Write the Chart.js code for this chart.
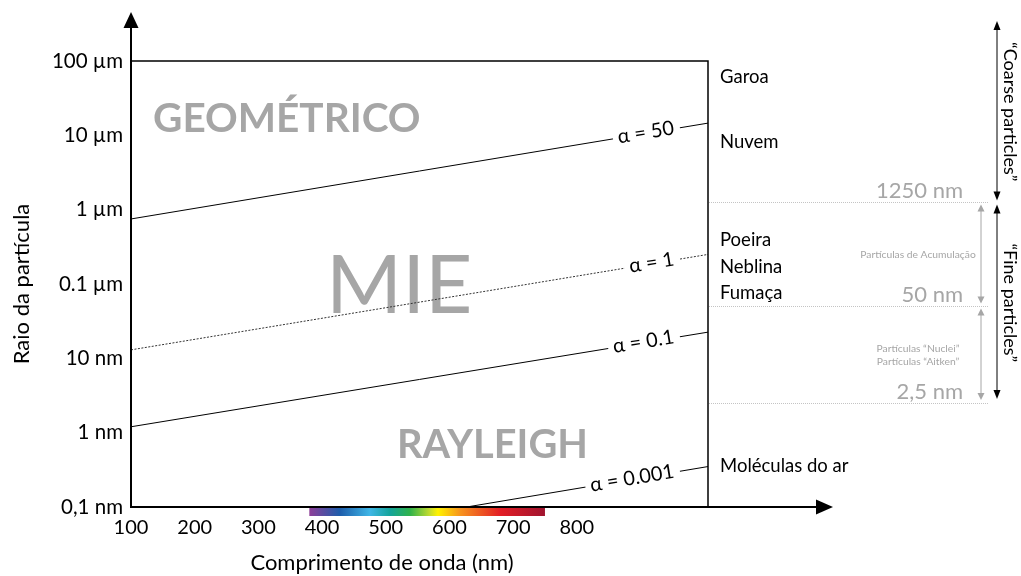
<!DOCTYPE html>
<html>
<head>
<meta charset="utf-8">
<script src="https://cdn.jsdelivr.net/npm/chart.js@4"></script>
<style>
  html, body { margin: 0; padding: 0; background: #fff; }
  canvas { display: block; }
</style>
</head>
<body>
<canvas id="c" width="1021" height="576"></canvas>
<script>
const FONT = 'Lato, "Open Sans", "Liberation Sans", sans-serif';

// Wavelength axis (nm)
const xTicks = [100, 200, 300, 400, 500, 600, 700, 800];
const xMin = 100;
const xMax = 1006;

// Particle radius axis (nm), log scale
const yTicks = [0.1, 1, 10, 100, 1000, 10000, 100000];
const yTickLabels = ['0,1 nm', '1 nm', '10 nm', '0.1 µm', '1 µm', '10 µm', '100 µm'];

// Size-parameter lines: start / end wavelength (nm) and radius (nm)
const alphaLabels = ['α = 50', 'α = 1', 'α = 0.1', 'α = 0.001'];
const alphaStartWl = [100, 100, 100, 627];
const alphaEndWl = [1006, 1006, 1006, 1006];
const alphaStartR = [750, 13, 1.2, 0.1];
const alphaEndR = [14600, 250, 22.5, 0.35];

// Scattering regimes
const regimes = ['GEOMÉTRICO', 'MIE', 'RAYLEIGH'];

// Particle types listed beside the plot
const particleTypes = ['Garoa', 'Nuvem', 'Poeira', 'Neblina', 'Fumaça', 'Moléculas do ar'];

// Aerosol size class boundaries (nm)
const sizeBounds = [1250, 50, 2.5];
const sizeBoundLabels = ['1250 nm', '50 nm', '2,5 nm'];
const sizeClassLabels = [['Partículas de Acumulação'], ['Partículas “Nuclei”', 'Partículas “Aitken”']];
const sizeModeLabels = ['“Coarse particles”', '“Fine particles”'];

// Visible spectrum band (nm) and colours
const spectrumWl = [380, 428, 475, 507, 538, 569, 582, 617, 680, 750];
const spectrumColors = ['#8e3f98', '#1d5dab', '#3fb6e6', '#14a49a', '#2fb24b', '#c4dc2e', '#fff200', '#f7941e', '#e31e26', '#a0142f'];

const GRAY = '#a6a6a6';

const datasets = alphaLabels.map((lab, i) => ({
  label: lab,
  data: [
    { x: alphaStartWl[i], y: alphaStartR[i] },
    { x: alphaEndWl[i], y: alphaEndR[i] }
  ],
  borderColor: i === 1 ? '#333' : '#000',
  borderWidth: 1,
  borderDash: i === 1 ? [2, 1.5] : [],
  pointRadius: 0,
  fill: false,
  tension: 0
}));

function arrowHead(ctx, x, y, dir, size, w) {
  // dir: 'up' | 'down' | 'right'
  ctx.beginPath();
  if (dir === 'up') {
    ctx.moveTo(x, y); ctx.lineTo(x - w, y + size); ctx.lineTo(x + w, y + size);
  } else if (dir === 'down') {
    ctx.moveTo(x, y); ctx.lineTo(x - w, y - size); ctx.lineTo(x + w, y - size);
  } else {
    ctx.moveTo(x, y); ctx.lineTo(x - size, y - w); ctx.lineTo(x - size, y + w);
  }
  ctx.closePath();
  ctx.fill();
}

function doubleArrow(ctx, x, y1, y2, color, size, w, lw) {
  ctx.save();
  ctx.strokeStyle = color;
  ctx.fillStyle = color;
  ctx.lineWidth = lw;
  ctx.beginPath();
  ctx.moveTo(x, y1 + size - 1);
  ctx.lineTo(x, y2 - size + 1);
  ctx.stroke();
  arrowHead(ctx, x, y1, 'up', size, w);
  arrowHead(ctx, x, y2, 'down', size, w);
  ctx.restore();
}

const regimePlugin = {
  id: 'regimes',
  beforeDatasetsDraw(chart) {
    const ctx = chart.ctx;
    ctx.save();
    ctx.fillStyle = GRAY;
    ctx.textBaseline = 'alphabetic';
    ctx.textAlign = 'left';
    ctx.font = 'bold 40.5px ' + FONT;
    ctx.fillText(regimes[0], 153, 132);
    ctx.font = '82px ' + FONT;
    ctx.fillText(regimes[1], 326, 313);
    ctx.font = 'bold 39.8px ' + FONT;
    ctx.fillText(regimes[2], 397, 458);
    ctx.restore();
  }
};

const decorPlugin = {
  id: 'decor',
  afterDatasetsDraw(chart) {
    const ctx = chart.ctx;
    const xs = chart.scales.x;
    const ys = chart.scales.y;

    // alpha labels sitting in gaps along each line
    ctx.save();
    ctx.font = '20px ' + FONT;
    ctx.textAlign = 'center';
    ctx.textBaseline = 'middle';
    alphaLabels.forEach((lab, i) => {
      const x1 = xs.getPixelForValue(alphaStartWl[i]);
      const y1 = ys.getPixelForValue(alphaStartR[i]);
      const x2 = xs.getPixelForValue(alphaEndWl[i]);
      const y2 = ys.getPixelForValue(alphaEndR[i]);
      const ang = Math.atan2(y2 - y1, x2 - x1);
      const w = ctx.measureText(lab).width;
      const cx = 674 - (w / 2) * Math.cos(ang);
      const cy = y1 + (y2 - y1) * (cx - x1) / (x2 - x1);
      ctx.save();
      ctx.translate(cx, cy);
      ctx.rotate(ang);
      ctx.fillStyle = '#fff';
      ctx.fillRect(-w / 2 - 5, -9, w + 11, 18);
      ctx.fillStyle = '#000';
      ctx.fillText(lab, 0, -1);
      ctx.restore();
    });
    ctx.restore();
  },
  afterDraw(chart) {
    const ctx = chart.ctx;
    const xs = chart.scales.x;
    const ys = chart.scales.y;
    const a = chart.chartArea;

    // visible spectrum band under the wavelength axis
    const sx1 = xs.getPixelForValue(spectrumWl[0]);
    const sx2 = xs.getPixelForValue(spectrumWl[spectrumWl.length - 1]);
    const grad = ctx.createLinearGradient(sx1, 0, sx2, 0);
    spectrumWl.forEach((wl, i) => {
      grad.addColorStop((xs.getPixelForValue(wl) - sx1) / (sx2 - sx1), spectrumColors[i]);
    });
    ctx.save();
    ctx.fillStyle = grad;
    ctx.fillRect(sx1, a.bottom, sx2 - sx1, 9);
    ctx.restore();

    // plot frame (top and right)
    ctx.save();
    ctx.strokeStyle = '#000';
    ctx.lineWidth = 1.5;
    ctx.beginPath();
    ctx.moveTo(a.left, a.top);
    ctx.lineTo(a.right, a.top);
    ctx.lineTo(a.right, a.bottom);
    ctx.stroke();

    // axes with arrows
    ctx.lineWidth = 2;
    ctx.beginPath();
    ctx.moveTo(a.left, a.bottom);
    ctx.lineTo(a.left, 26);
    ctx.moveTo(a.left - 1, a.bottom);
    ctx.lineTo(818, a.bottom);
    ctx.stroke();
    ctx.fillStyle = '#000';
    arrowHead(ctx, a.left, 12, 'up', 16, 7.5);
    arrowHead(ctx, 833, a.bottom, 'right', 17, 7.5);
    ctx.restore();

    // wavelength axis title
    ctx.save();
    ctx.font = '22px ' + FONT;
    ctx.fillStyle = '#000';
    ctx.textAlign = 'center';
    ctx.textBaseline = 'middle';
    ctx.fillText('Comprimento de onda (nm)', 382, 563);
    ctx.restore();

    // particle type labels
    const typeY = [77, 142, 240, 267, 293, 466];
    ctx.save();
    ctx.font = '18.5px ' + FONT;
    ctx.fillStyle = '#000';
    ctx.textAlign = 'left';
    ctx.textBaseline = 'middle';
    particleTypes.forEach((t, i) => ctx.fillText(t, a.right + 12, typeY[i]));
    ctx.restore();

    // size class boundaries
    const by = sizeBounds.map(v => ys.getPixelForValue(v));
    ctx.save();
    ctx.strokeStyle = '#c4c4c4';
    ctx.lineWidth = 1;
    ctx.setLineDash([1, 1]);
    by.forEach(y => {
      ctx.beginPath();
      ctx.moveTo(a.right + 1, Math.round(y) + 0.5);
      ctx.lineTo(988, Math.round(y) + 0.5);
      ctx.stroke();
    });
    ctx.setLineDash([]);
    ctx.font = '22px ' + FONT;
    ctx.fillStyle = GRAY;
    ctx.textAlign = 'right';
    ctx.textBaseline = 'alphabetic';
    by.forEach((y, i) => ctx.fillText(sizeBoundLabels[i], 963, y - 4));

    // size class names
    ctx.font = '10.3px ' + FONT;
    ctx.textAlign = 'center';
    ctx.textBaseline = 'middle';
    sizeClassLabels.forEach((lines, k) => {
      const mid = (by[k] + by[k + 1]) / 2;
      lines.forEach((ln, j) => {
        ctx.fillText(ln, 918, mid + (j - (lines.length - 1) / 2) * 13);
      });
    });
    ctx.restore();

    // gray arrows between boundaries
    doubleArrow(ctx, 981, by[0] + 2, by[1] - 3, GRAY, 7, 3.5, 1);
    doubleArrow(ctx, 981, by[1] + 2, by[2] - 3, GRAY, 7, 3.5, 1);

    // coarse / fine mode arrows
    doubleArrow(ctx, 997, 21, by[0] - 2, '#000', 9, 3.5, 1);
    doubleArrow(ctx, 997, by[0] + 2, by[2] - 4, '#000', 9, 3.5, 1);

    ctx.save();
    ctx.font = '18px ' + FONT;
    ctx.fillStyle = '#000';
    ctx.textAlign = 'center';
    ctx.textBaseline = 'middle';
    const modeY = [(21 + by[0]) / 2, (by[0] + by[2]) / 2];
    sizeModeLabels.forEach((t, i) => {
      ctx.save();
      ctx.translate(1010, modeY[i]);
      ctx.rotate(Math.PI / 2);
      ctx.fillText(t, 0, 0);
      ctx.restore();
    });
    ctx.restore();
  }
};

Chart.defaults.font.family = FONT;
Chart.defaults.color = '#000';

new Chart(document.getElementById('c'), {
  type: 'line',
  data: { datasets },
  options: {
    responsive: false,
    animation: false,
    layout: { padding: { top: 61, right: 313, left: 0, bottom: 0 } },
    plugins: {
      legend: { display: false },
      tooltip: { enabled: false }
    },
    scales: {
      x: {
        type: 'linear',
        min: xMin,
        max: xMax,
        grid: { display: false, drawTicks: false },
        border: { display: false },
        afterBuildTicks: s => { s.ticks = xTicks.map(v => ({ value: v })); },
        afterFit: s => { s.height = 69; },
        ticks: {
          font: { size: 20 },
          color: '#000',
          padding: 9,
          maxRotation: 0,
          autoSkip: false,
          callback: v => String(v)
        }
      },
      y: {
        type: 'logarithmic',
        min: yTicks[0],
        max: yTicks[yTicks.length - 1],
        grid: { display: false, drawTicks: false },
        border: { display: false },
        afterBuildTicks: s => { s.ticks = yTicks.map(v => ({ value: v })); },
        afterFit: s => { s.width = 131; },
        ticks: {
          font: { size: 20.5 },
          color: '#000',
          padding: 8,
          autoSkip: false,
          callback: v => {
            const i = yTicks.findIndex(t => Math.abs(Math.log10(t) - Math.log10(v)) < 1e-6);
            return i >= 0 ? yTickLabels[i] : '';
          }
        },
        title: {
          display: true,
          text: 'Raio da partícula',
          font: { size: 22 },
          color: '#000',
          padding: { top: 9, bottom: 0 }
        }
      }
    }
  },
  plugins: [regimePlugin, decorPlugin]
});
</script>
</body>
</html>
